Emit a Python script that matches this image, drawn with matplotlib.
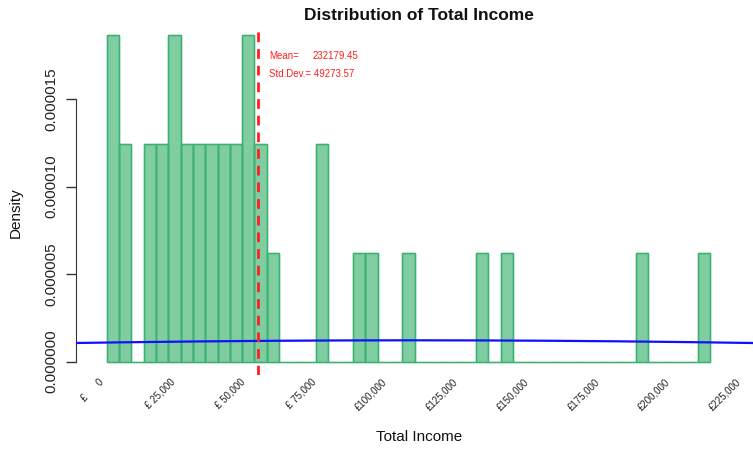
import numpy as np
import matplotlib
matplotlib.use("Agg")
import matplotlib.pyplot as plt
import matplotlib.transforms as mtransforms

plt.rcParams['font.family'] = ['Liberation Sans', 'DejaVu Sans']

# Histogram of total income: 49 equal-width bins between the lowest and highest income
income_min = 1572
income_max = 214750
bin_counts = [3, 2, 0, 2, 2, 3, 2, 2, 2, 2, 2, 3, 2, 1, 0, 0, 0, 2, 0, 0,
              1, 1, 0, 0, 1, 0, 0, 0, 0, 0, 1, 0, 1, 0, 0, 0, 0, 0, 0, 0,
              0, 0, 0, 1, 0, 0, 0, 0, 1]

# Mean marker and summary annotation
mean_income = 55100
annot_mean = "232179.45"
annot_sd = "49273.57"

# Overlaid bell curve
curve_centre = 110000
curve_spread = 231000
curve_peak = 1.22e-6

# Axis labelling
x_ticks = [0, 25000, 50000, 75000, 100000, 125000, 150000, 175000, 200000, 225000]
y_ticks = [0.0, 0.000005, 0.000010, 0.000015]
y_tick_labels = ["0.000000", "0.000005", "0.000010", "0.000015"]

n_bins = len(bin_counts)
edges = np.linspace(income_min, income_max, n_bins + 1)
width = edges[1] - edges[0]
counts = np.array(bin_counts, dtype=float)
density = counts / (counts.sum() * width)

fig = plt.figure(figsize=(7.53, 4.49), dpi=100)
ax = fig.add_axes([76 / 753, 1 - 374.8 / 449, 686 / 753, 354.6 / 449])
ax.set_xlim(-9276, 233100)
ax.set_ylim(-0.04 * 1.875e-5, 1.04 * 1.875e-5)

ax.bar(edges[:-1], density, width=width, align='edge',
       facecolor='#3CB371', alpha=0.65, edgecolor='#2E9E60', linewidth=1.0, zorder=2)
ax.bar(edges[:-1], density, width=width, align='edge',
       facecolor='none', edgecolor='#3CB371', linewidth=1.0, zorder=2.1)

xs = np.linspace(-20000, 245000, 400)
ys = curve_peak * np.exp(-0.5 * ((xs - curve_centre) / curve_spread) ** 2)
ax.plot(xs, ys, color='#1010ff', linewidth=1.6, zorder=3)

ax.axvline(mean_income, ymax=0.975, color='#ff2020', linewidth=2.0,
           linestyle=(0, (3.5, 2.5)), zorder=4)

fig.text(269 / 753, 1 - 56 / 449, "Mean=", color='#ff2020', fontsize=7, va='center', ha='left')
fig.text(313 / 753, 1 - 56 / 449, annot_mean, color='#ff2020', fontsize=7, va='center', ha='left')
fig.text(269 / 753, 1 - 74 / 449, "Std.Dev.= " + annot_sd, color='#ff2020', fontsize=7,
         va='center', ha='left')

# Axes styling in the manner of base graphics
for side in ['top', 'right', 'bottom']:
    ax.spines[side].set_visible(False)
ax.spines['left'].set_bounds(y_ticks[0], y_ticks[-1])
ax.spines['left'].set_color('#333333')
ax.set_yticks(y_ticks)
ax.set_yticklabels(y_tick_labels, rotation=90, va='center', fontsize=11, color='#222222')
ax.tick_params(axis='y', length=7, width=1, color='#333333', pad=6)
ax.set_xticks([])

trans = mtransforms.blended_transform_factory(ax.transData, ax.transAxes)
for v in x_ticks:
    ax.text(v, -0.015, f"£{v:>7,}", transform=trans, rotation=45, ha='right', va='center',
            rotation_mode='anchor', fontsize=7, color='#222222')

fig.text(419 / 753, 1 - 437 / 449, "Total Income", fontsize=11, ha='center', va='center',
         color='#111111')
fig.text(16 / 753, 1 - 213 / 449, "Density", fontsize=11, rotation=90, ha='center',
         va='center', color='#111111')
fig.text(419 / 753, 1 - 15 / 449, "Distribution of Total Income", fontsize=12.5,
         fontweight='bold', ha='center', va='center', color='#111111')

fig.savefig("out.png", dpi=100)
